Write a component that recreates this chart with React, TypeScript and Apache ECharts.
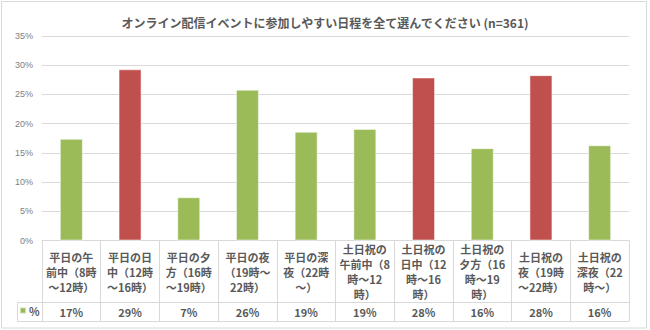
import React, { useEffect, useRef } from "react";
import * as echarts from "echarts";

const title = "オンライン配信イベントに参加しやすい日程を全て選んでください (n=361)";
const categories = [
  "平日の午\n前中（8時\n～12時）",
  "平日の日\n中（12時\n～16時）",
  "平日の夕\n方（16時\n～19時）",
  "平日の夜\n（19時～\n22時）",
  "平日の深\n夜（22時\n～）",
  "土日祝の\n午前中（8\n時～12\n時）",
  "土日祝の\n日中（12\n時～16\n時）",
  "土日祝の\n夕方（16\n時～19\n時）",
  "土日祝の\n夜（19時\n～22時）",
  "土日祝の\n深夜（22\n時～）",
];
const values = [17.4, 29.3, 7.4, 25.8, 18.6, 19.1, 27.9, 15.8, 28.3, 16.3];
const highlighted = [false, true, false, false, false, false, true, false, true, false];
const seriesName = "%";
const yTicks = { min: 0, max: 35, interval: 5 };

const GREEN = "#9BBB59";
const RED = "#C0504D";
const TEXT = "#595959";
const AXIS_TEXT = "#808080";
const LINE = "#D9D9D9";
const JP = "'Noto Sans CJK JP', 'Noto Sans', sans-serif";

export default function App() {
  const ref = useRef<HTMLDivElement>(null);
  useEffect(() => {
    if (!ref.current) return;
    const chart = echarts.init(ref.current, null, { renderer: "svg" });
    const gridLeft = 42;
    const gridRight = 21;
    const gridTop = 36;
    const gridBottomY = 240.5;
    chart.setOption({
      animation: false,
      backgroundColor: "#fff",
      title: {
        text: title,
        left: "center",
        top: 11,
        textStyle: { fontFamily: JP, fontSize: 12, fontWeight: "bold", color: TEXT },
      },
      legend: {
        data: [seriesName],
        left: 19,
        top: 305,
        icon: "rect",
        itemWidth: 6,
        itemHeight: 6,
        itemGap: 4,
        padding: 0,
        textStyle: { fontFamily: JP, fontSize: 11, fontWeight: "bold", color: TEXT, padding: [0, 0, 0, -2] },
      },
      grid: { left: gridLeft, right: gridRight, top: gridTop, bottom: 330 - gridBottomY },
      xAxis: [
        {
          type: "category",
          data: categories,
          position: "bottom",
          axisLine: { show: true, lineStyle: { color: LINE, width: 1 } },
          axisTick: { show: true, alignWithLabel: false, interval: 0, length: 81, lineStyle: { color: LINE } },
          axisLabel: {
            interval: 0,
            margin: 31,
            verticalAlign: "middle",
            lineHeight: 15,
            fontFamily: JP,
            fontSize: 11,
            fontWeight: "bold",
            color: TEXT,
          },
        },
        {
          type: "category",
          data: categories,
          position: "bottom",
          offset: 62,
          axisLine: { show: true, lineStyle: { color: LINE, width: 1 } },
          axisTick: { show: false },
          axisLabel: {
            interval: 0,
            margin: 9.5,
            verticalAlign: "middle",
            fontFamily: JP,
            fontSize: 11,
            fontWeight: "bold",
            color: TEXT,
            formatter: (_v: string, i: number) => Math.round(values[i]) + "%",
          },
        },
      ],
      yAxis: {
        type: "value",
        min: yTicks.min,
        max: yTicks.max,
        interval: yTicks.interval,
        axisLine: { show: false },
        axisTick: { show: false },
        splitLine: { lineStyle: { color: LINE, width: 1 } },
        axisLabel: {
          formatter: "{value}%",
          margin: 9,
          fontFamily: "'Liberation Sans', sans-serif",
          fontSize: 9,
          color: AXIS_TEXT,
        },
      },
      series: [
        {
          name: seriesName,
          type: "bar",
          xAxisIndex: 0,
          barWidth: 23,
          itemStyle: { color: GREEN, borderColor: "rgba(255,255,255,0.5)", borderWidth: 1 },
          data: values.map((v, i) => ({
            value: v,
            itemStyle: { color: highlighted[i] ? RED : GREEN },
          })),
        },
      ],
      graphic: [
        {
          type: "rect",
          shape: { x: 1.5, y: 1.5, width: 645, height: 326.5 },
          style: { fill: "none", stroke: LINE, lineWidth: 1 },
          silent: true,
        },
        {
          type: "line",
          shape: { x1: 17.5, y1: 321.5, x2: 650 - gridRight, y2: 321.5 },
          style: { stroke: LINE, lineWidth: 1 },
          silent: true,
        },
        {
          type: "line",
          shape: { x1: 17.5, y1: 302.5, x2: gridLeft, y2: 302.5 },
          style: { stroke: LINE, lineWidth: 1 },
          silent: true,
        },
        {
          type: "line",
          shape: { x1: 17.5, y1: 302.5, x2: 17.5, y2: 321.5 },
          style: { stroke: LINE, lineWidth: 1 },
          silent: true,
        },
      ],
    });
    return () => chart.dispose();
  }, []);
  return (
    <div
      ref={ref}
      style={{ position: "fixed", left: 0, top: 0, width: 650, height: 330 }}
    />
  );
}
